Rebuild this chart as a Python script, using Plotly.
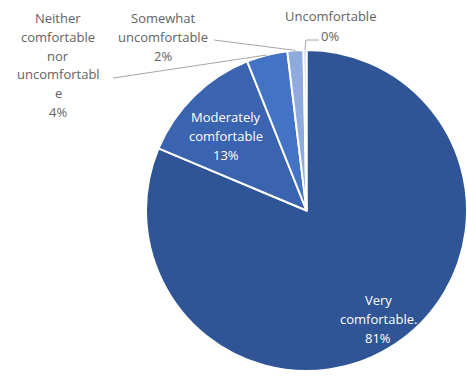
import math
import plotly.graph_objects as go

# Survey responses: comfort level
labels = ["Very comfortable.", "Moderately comfortable", "Neither comfortable nor uncomfortable",
          "Somewhat uncomfortable", "Uncomfortable"]
values = [81.0, 12.6, 4.1, 1.6, 0.3]
colors = ["#2F5597", "#3A63B0", "#4472C4", "#8FAADC", "#B4C7E7"]

# label text lines (wrapped as displayed)
label_lines = [
    ["Very", "comfortable."],
    ["Moderately", "comfortable"],
    ["Neither", "comfortable", "nor", "uncomfortabl", "e"],
    ["Somewhat", "uncomfortable"],
    ["Uncomfortable"],
]

W, H = 467, 377
# pie domain in pixels
x0, x1 = 146, 467
y0, y1 = 50, 371
cx, cy = (x0 + x1) / 2, (y0 + y1) / 2
R = min(x1 - x0, y1 - y0) / 2

total = sum(values)
pcts = [v / total for v in values]

fig = go.Figure(go.Pie(
    labels=labels, values=values, sort=False, direction="clockwise", rotation=0,
    marker=dict(colors=colors, line=dict(color="white", width=2)),
    textinfo="none", hoverinfo="skip", showlegend=False,
    domain=dict(x=[x0 / W, x1 / W], y=[1 - y1 / H, 1 - y0 / H]),
))


def px(x):
    return x / W


def py(y):
    return 1 - y / H


def edge_point(i, frac_r=1.0):
    # point on slice i's mid-angle, measured clockwise from 12 o'clock
    start = sum(pcts[:i])
    mid = (start + pcts[i] / 2) * 2 * math.pi
    return cx + frac_r * R * math.sin(mid), cy - frac_r * R * math.cos(mid)


FONT = "Open Sans"
GRAY = "#636363"
LINE = "#A6A6A6"

# (center x, top line y, color) for each label block
placements = [
    (378, 300, "white"),
    (226, 117, "white"),
    (58, 18, GRAY),
    (163, 18, GRAY),
    (330, 16, GRAY),
]

for i, (lx, ly, col) in enumerate(placements):
    lines = label_lines[i] + [f"{round(pcts[i] * 100):.0f}%"]
    if i == 4:
        lines = label_lines[i]
    for k, t in enumerate(lines):
        fig.add_annotation(x=px(lx), y=py(ly + k * 18.8), xref="paper", yref="paper",
                           text=t, showarrow=False, xanchor="center", yanchor="middle",
                           font=dict(family=FONT, size=13, color=col))

# small value label beside the tiny slice
fig.add_annotation(x=px(330), y=py(36), xref="paper", yref="paper",
                   text=f"{round(pcts[4] * 100):.0f}%", showarrow=False,
                   xanchor="center", yanchor="middle",
                   font=dict(family=FONT, size=13, color=GRAY))

# leader lines
ex, ey = edge_point(3)
fig.add_shape(type="path", xref="paper", yref="paper",
              path=f"M {px(214)} {py(40)} L {px(ex)} {py(ey)}",
              line=dict(color=LINE, width=1))
ex, ey = edge_point(2)
fig.add_shape(type="path", xref="paper", yref="paper",
              path=f"M {px(113)} {py(78)} L {px(120)} {py(77)} L {px(ex)} {py(ey)}",
              line=dict(color=LINE, width=1))
ex, ey = edge_point(4)
fig.add_shape(type="path", xref="paper", yref="paper",
              path=f"M {px(ex)} {py(ey)} L {px(ex + 1)} {py(40)} L {px(319)} {py(40)}",
              line=dict(color=LINE, width=1))

fig.update_layout(width=W, height=H, margin=dict(l=0, r=0, t=0, b=0),
                  paper_bgcolor="white", plot_bgcolor="white")

fig.write_html("out.html")
